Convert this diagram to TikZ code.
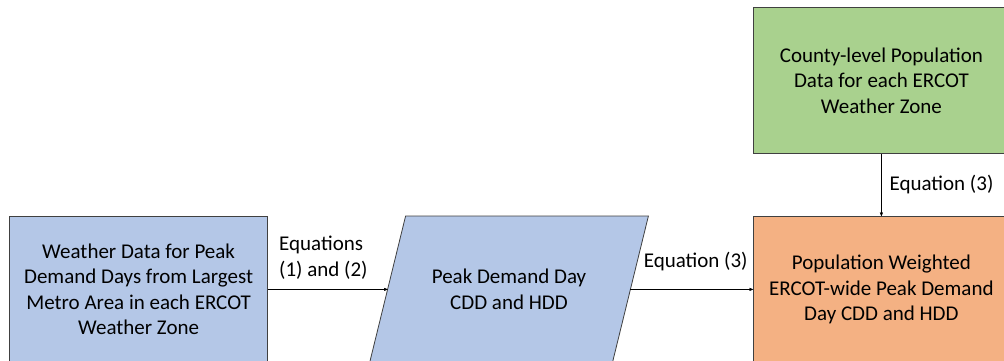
\documentclass[tikz,border=0pt]{standalone}
\usepackage{fontspec}
\setmainfont{Carlito}
\usetikzlibrary{graphs,arrows,backgrounds}
\definecolor{wxblue}{HTML}{B4C7E7}
\definecolor{popgreen}{HTML}{A9D18E}
\definecolor{pworange}{HTML}{F4B183}
\tikzset{
    >=stealth',
    every picture/.style={x=1pt, y=1pt},
    box/.style={draw=black!75, line width=0.8pt, align=center,
        minimum height=146pt, inner sep=0pt,
        font=\fontsize{21}{25.5}\selectfont},
    lbl/.style={inner sep=3pt, font=\fontsize{21}{25.5}\selectfont},
}

\begin{document}
\begin{tikzpicture}
    \useasboundingbox (0,0) rectangle (1004,-360);
    \clip (0,0) rectangle (1004,-360);
    \matrix[column sep=120pt, row sep=62pt, inner sep=0pt,
            nodes={anchor=center}, anchor=north west] (m) at (9,-7) {
        & &[3pt] \node[box, fill=popgreen, minimum width=256pt] (pop)
                {County-level Population\\Data for each ERCOT\\Weather Zone} ; \\
        \node[box, fill=wxblue, minimum width=258pt] (wx)
            {Weather Data for Peak\\Demand Days from Largest\\Metro Area in each ERCOT\\Weather Zone} ; &
        \node[box, draw=none, minimum width=242pt] (cdd)
            {Peak Demand Day\\CDD and HDD} ; &[3pt]
        \node[box, fill=pworange, minimum width=256pt] (pw)
            {Population Weighted\\ERCOT-wide Peak Demand\\Day CDD and HDD} ; \\
    } ;
    % slanted outline behind the middle node
    \begin{scope}[on background layer]
        \filldraw[fill=wxblue, draw=black!75, line width=0.8pt]
            ([xshift=18pt]cdd.north west) -- ([xshift=18pt]cdd.north east)
            -- ([xshift=-18pt]cdd.south east) -- ([xshift=-18pt]cdd.south west)
            -- cycle ;
    \end{scope}
    \graph[use existing nodes]{
        wx ->[edge node={node[lbl, align=left, anchor=south west, pos=0,
                xshift=8pt, yshift=7pt] {Equations\\(1) and (2)}}]
        cdd ->[edge node={node[lbl, midway, above=15pt, xshift=4pt] {Equation (3)}}]
        pw ;
        pop ->[edge node={node[lbl, midway, right=5pt] {Equation (3)}}]
        pw ;
    } ;
\end{tikzpicture}
\end{document}
